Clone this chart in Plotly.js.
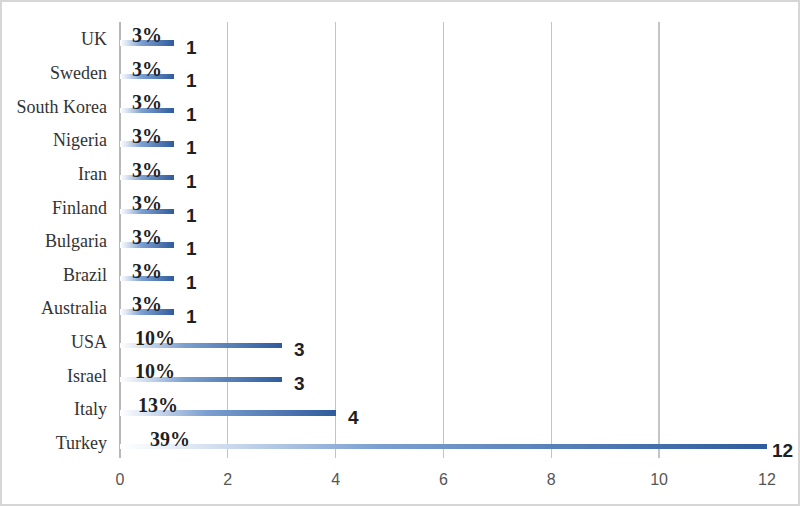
<!DOCTYPE html>
<html>
<head>
<meta charset="utf-8">
<script src="https://cdn.plot.ly/plotly-3.0.1.min.js"></script>
<style>
  html, body { margin: 0; padding: 0; background: #fff; }
  #wrap { position: relative; width: 800px; height: 506px; }
  #chart { width: 800px; height: 506px; }
  #frame { position: absolute; left: 0; top: 0; width: 800px; height: 506px; box-sizing: border-box;
           border: 2px solid #d6d6d6; pointer-events: none; }
</style>
</head>
<body>
<div id="wrap"><div id="chart"></div><div id="frame"></div></div>
<script>
// ---- data (bottom to top) ----
var countries = ['Turkey', 'Italy', 'Israel', 'USA', 'Australia', 'Brazil', 'Bulgaria',
                 'Finland', 'Iran', 'Nigeria', 'South Korea', 'Sweden', 'UK'];
var counts = [12, 4, 3, 3, 1, 1, 1, 1, 1, 1, 1, 1, 1];
var percents = ['39%', '13%', '10%', '10%', '3%', '3%', '3%', '3%', '3%', '3%', '3%', '3%', '3%'];
var xTicks = [0, 2, 4, 6, 8, 10, 12];

// ---- layout-only offsets for percent labels (pixels from the zero line) ----
function pctOffset(label) {
  return label === '39%' ? 50 : (label === '13%' ? 38 : (label === '10%' ? 35 : 27));
}

var maxCount = Math.max.apply(null, counts);
var annotations = [];
countries.forEach(function (c, i) {
  annotations.push({
    x: 0, y: c, xref: 'x', yref: 'y', text: percents[i], showarrow: false,
    xanchor: 'center', yanchor: 'middle', xshift: pctOffset(percents[i]), yshift: 8,
    font: { family: 'Liberation Serif, Times New Roman, serif', size: 20, color: '#1f1f1f', weight: 'bold' }
  });
  annotations.push({
    x: counts[i], y: c, xref: 'x', yref: 'y', text: String(counts[i]), showarrow: false,
    xanchor: 'left', yanchor: 'middle', xshift: counts[i] === maxCount ? 3 : 10, yshift: -4,
    font: { family: 'Liberation Sans, Arial, sans-serif', size: 19, color: '#1f1f1f', weight: 'bold' }
  });
});

var trace = {
  type: 'bar', orientation: 'h',
  x: counts, y: countries,
  width: 0.16,
  marker: { color: '#3d6aae', line: { width: 0 } },
  hoverinfo: 'none'
};

var layout = {
  width: 800, height: 506,
  margin: { l: 120, r: 33, t: 22, b: 48 },
  paper_bgcolor: '#ffffff', plot_bgcolor: '#ffffff',
  showlegend: false,
  bargap: 0,
  xaxis: {
    range: [0, 12.002], tickvals: xTicks, ticktext: xTicks.map(String),
    showgrid: true, gridcolor: '#c4c4c4', gridwidth: 1.3,
    zeroline: true, zerolinecolor: '#b8b8b8', zerolinewidth: 1.5,
    showline: false, ticks: '', ticklabelstandoff: 10,
    tickfont: { family: 'Liberation Sans, Arial, sans-serif', size: 16, color: '#555555' },
    fixedrange: true
  },
  yaxis: {
    type: 'category', categoryorder: 'array', categoryarray: countries,
    range: [-0.336, 12.625],
    showgrid: false, zeroline: false, showline: false, ticks: '',
    ticklabelstandoff: 12, ticklabelshift: -4,
    tickfont: { family: 'Liberation Serif, Times New Roman, serif', size: 18, color: '#333333' },
    fixedrange: true
  },
  annotations: annotations
};

Plotly.newPlot('chart', [trace], layout, { displayModeBar: false, staticPlot: true }).then(function (gd) {
  var svgNS = 'http://www.w3.org/2000/svg';
  var svg = gd.querySelector('svg.main-svg');
  var defs = svg.querySelector('defs') || svg.insertBefore(document.createElementNS(svgNS, 'defs'), svg.firstChild);
  var grad = document.createElementNS(svgNS, 'linearGradient');
  grad.setAttribute('id', 'barGrad');
  grad.setAttribute('x1', '0'); grad.setAttribute('y1', '0');
  grad.setAttribute('x2', '1'); grad.setAttribute('y2', '0');
  [['0', '#ffffff'], ['0.12', '#dbe5f3'], ['0.4', '#7b9fd0'], ['1', '#2f5c9d']].forEach(function (s) {
    var st = document.createElementNS(svgNS, 'stop');
    st.setAttribute('offset', s[0]); st.setAttribute('stop-color', s[1]);
    grad.appendChild(st);
  });
  defs.appendChild(grad);
  gd.querySelectorAll('.bars .point path').forEach(function (p) {
    p.style.fill = 'url(#barGrad)';
  });
});
</script>
</body>
</html>
